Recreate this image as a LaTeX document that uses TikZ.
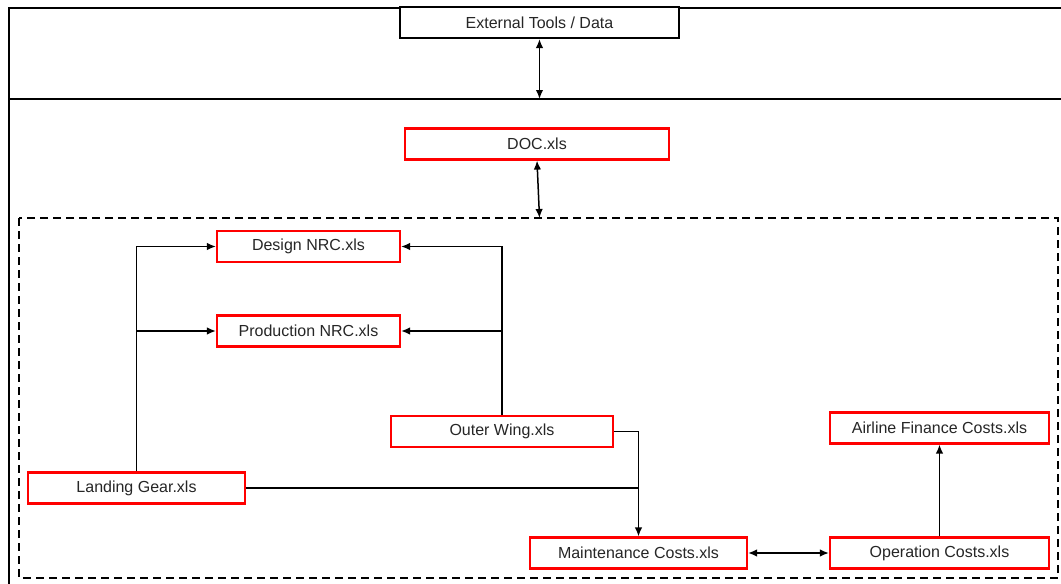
\documentclass[tikz,border=0pt]{standalone}
\usepackage{fontspec}
\setmainfont{Liberation Sans}
\usetikzlibrary{arrows.meta}

\tikzset{
  xlsfile/.style={draw=red, line width=2.2pt, fill=white, minimum height=31pt,
    inner sep=0pt, text=black!85, font=\fontsize{16}{19}\selectfont},
  toolbox/.style={xlsfile, draw=black},
  link/.style={line width=1.5pt}
}

\begin{document}
\begin{tikzpicture}[x=1pt,y=-1pt,>={Latex[length=9pt,width=7.5pt]}]
\useasboundingbox (0,0) rectangle (1061,584);
% frame and group
\draw[line width=2.2pt] (9,584) -- (9,8) -- (1061,8);
\draw[line width=2.2pt] (9,99) -- (1061,99);
\draw[line width=1.4pt,dash pattern=on 8pt off 5pt] (19,218) rectangle (1058,578);
\coordinate (sep) at (539.5,99);
\coordinate (grp) at (539.5,218);

\node[toolbox,minimum width=279pt] (ext) at (539.5,22.5) {External Tools / Data};
\node[xlsfile,minimum width=264pt] (doc) at (537,144) {DOC.xls};
\node[xlsfile,minimum width=183pt] (des) at (308.5,246.5) {Design NRC.xls};
\node[xlsfile,minimum width=183pt] (prod) at (308.5,331) {Production NRC.xls};
\node[xlsfile,minimum width=222pt] (ow) at (502,431.5) {Outer Wing.xls};
\node[xlsfile,minimum width=217pt] (lg) at (136.5,488) {Landing Gear.xls};
\node[xlsfile,minimum width=217pt] (maint) at (638.5,553) {Maintenance Costs.xls};
\node[xlsfile,minimum width=219pt] (op) at (939.5,553) {Operation Costs.xls};
\node[xlsfile,minimum width=219pt] (af) at (939.5,428) {Airline Finance Costs.xls};

\draw[link,<->] (ext.south) -- (sep);
\draw[link,<->] (doc.south) -- (grp);
\draw[link,->] (lg.north) |- (des.west);
\draw[link,->] (lg.north) |- (prod.west);
\draw[link,->] (ow.north) |- (des.east);
\draw[link,->] (ow.north) |- (prod.east);
\draw[link,->] (ow.east) -| (maint.north);
\draw[link] (lg.east) -- (lg.east -| maint.north);
\draw[link,<->] (maint.east) -- (op.west);
\draw[link,->] (op.north) -- (af.south);
\end{tikzpicture}
\end{document}
